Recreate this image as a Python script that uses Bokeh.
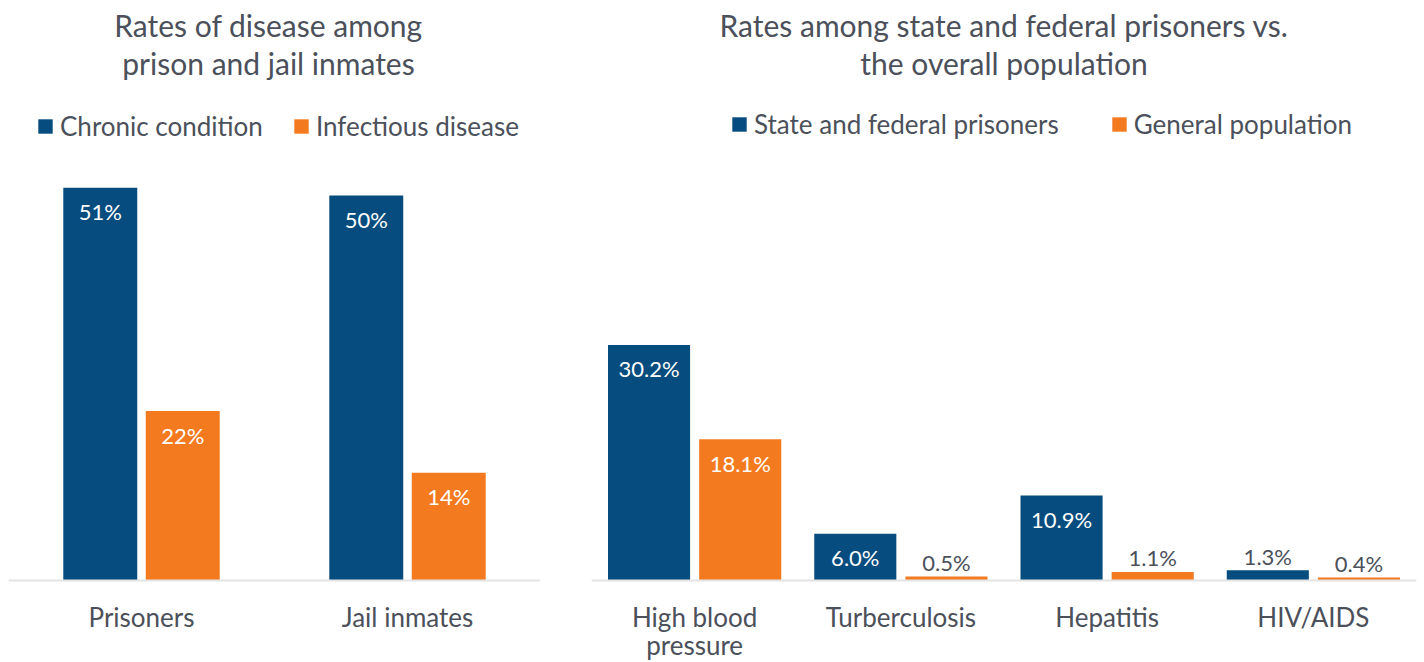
from bokeh.plotting import figure
from bokeh.layouts import row
from bokeh.models import ColumnDataSource, FactorRange, Range1d, Legend, LegendItem, Span
from bokeh.transform import dodge
from bokeh.core.properties import value
from bokeh.embed import file_html
from bokeh.resources import INLINE

# ---------------- data ----------------
left_title = ["Rates of disease among", "prison and jail inmates"]
left_categories = ["Prisoners", "Jail inmates"]
left_tick_labels = ["Prisoners", "Jail inmates"]
left_series_names = ["Chronic condition", "Infectious disease"]
left_chronic = [51, 50]
left_infectious = [22, 14]

right_title = ["Rates among state and federal prisoners vs.", "the overall population"]
right_categories = ["High blood pressure", "Turberculosis", "Hepatitis", "HIV/AIDS"]
right_tick_labels = ["High blood\npressure", "Turberculosis", "Hepatitis", "HIV/AIDS"]
right_series_names = ["State and federal prisoners", "General population"]
right_prisoners = [30.2, 6.0, 10.9, 1.3]
right_general = [18.1, 0.5, 1.1, 0.4]

# ---------------- style ----------------
FONT = "Lato"
BLUE = "#064C7E"
ORANGE = "#F47A20"
TEXT = "#4B505A"
AXIS_LINE = "#E4E4E4"
H = 662
BASE_FROM_TOP = 580


def make_panel(cats, tick_labels, s_a, s_b, names, title_lines, fmt, ppp,
               width, border_l, border_r, offset, bar_w, legend_loc, legend_spacing,
               title_dx):
    y_end = BASE_FROM_TOP / ppp
    y_start = -(H - BASE_FROM_TOP) / ppp
    p = figure(x_range=FactorRange(factors=cats, range_padding=0),
               y_range=Range1d(y_start, y_end),
               width=width, height=H, output_backend="svg", toolbar_location=None,
               x_axis_location=None, y_axis_location=None,
               min_border_left=border_l, min_border_right=border_r,
               min_border_top=0, min_border_bottom=0,
               outline_line_color=None, background_fill_color="white")
    p.grid.visible = False

    src = ColumnDataSource(dict(cat=cats, a=s_a, b=s_b))
    ra = p.vbar(x=dodge("cat", -offset, range=p.x_range), top="a", bottom=0, width=bar_w,
                source=src, fill_color=BLUE, line_color=None)
    rb = p.vbar(x=dodge("cat", offset, range=p.x_range), top="b", bottom=0, width=bar_w,
                source=src, fill_color=ORANGE, line_color=None)

    # baseline
    p.add_layout(Span(location=0, dimension="width", line_color=AXIS_LINE, line_width=2))

    # value labels
    for vals, off in ((s_a, -offset), (s_b, offset)):
        inside = [v >= 3 for v in vals]
        lsrc = ColumnDataSource(dict(
            cat=cats, y=vals,
            txt=[fmt.format(v) for v in vals],
            col=["white" if i else TEXT for i in inside],
            yo=[24 if i else -14 for i in inside]))
        p.text(x=dodge("cat", off, range=p.x_range), y="y", text="txt", source=lsrc,
               text_color="col", y_offset="yo", text_align="center",
               text_baseline="middle", text_font=value(FONT), text_font_size="22px")

    # category labels
    csrc = ColumnDataSource(dict(cat=cats, lab=tick_labels, y=[0] * len(cats)))
    p.text(x="cat", y="y", text="lab", source=csrc, y_offset=20, text_align="center",
           text_baseline="top", text_font=value(FONT), text_font_size="26px",
           text_color=TEXT, text_line_height=0.9)

    # title
    tsrc = ColumnDataSource(dict(x=[len(cats) / 2.0] * 2, y=[y_end] * 2, t=title_lines,
                                 yo=[24, 62]))
    p.text(x="x", y="y", text="t", y_offset="yo", x_offset=title_dx, source=tsrc,
           text_align="center", text_baseline="middle", text_font=value(FONT),
           text_font_size="30px", text_color=TEXT)

    legend = Legend(items=[LegendItem(label=names[0], renderers=[ra]),
                           LegendItem(label=names[1], renderers=[rb])],
                    orientation="horizontal", location=legend_loc,
                    label_text_font=FONT, label_text_font_size="26px",
                    label_text_color=TEXT, glyph_width=18, glyph_height=18,
                    label_standoff=6, spacing=legend_spacing, padding=0, margin=0,
                    border_line_alpha=0, background_fill_alpha=0)
    p.add_layout(legend)
    return p


left = make_panel(left_categories, left_tick_labels, left_chronic, left_infectious,
                  left_series_names, left_title, "{:.0f}%", 7.7,
                  568, 8, 28, 0.155, 0.278, (28, 520), 29, -6)
right = make_panel(right_categories, right_tick_labels, right_prisoners, right_general,
                   right_series_names, right_title, "{:.1f}%", 7.8,
                   856, 23, 8, 0.221, 0.398, (139, 522), 51, 0)

layout = row(left, right, spacing=0)
open("out.html", "w").write(file_html(layout, INLINE))
